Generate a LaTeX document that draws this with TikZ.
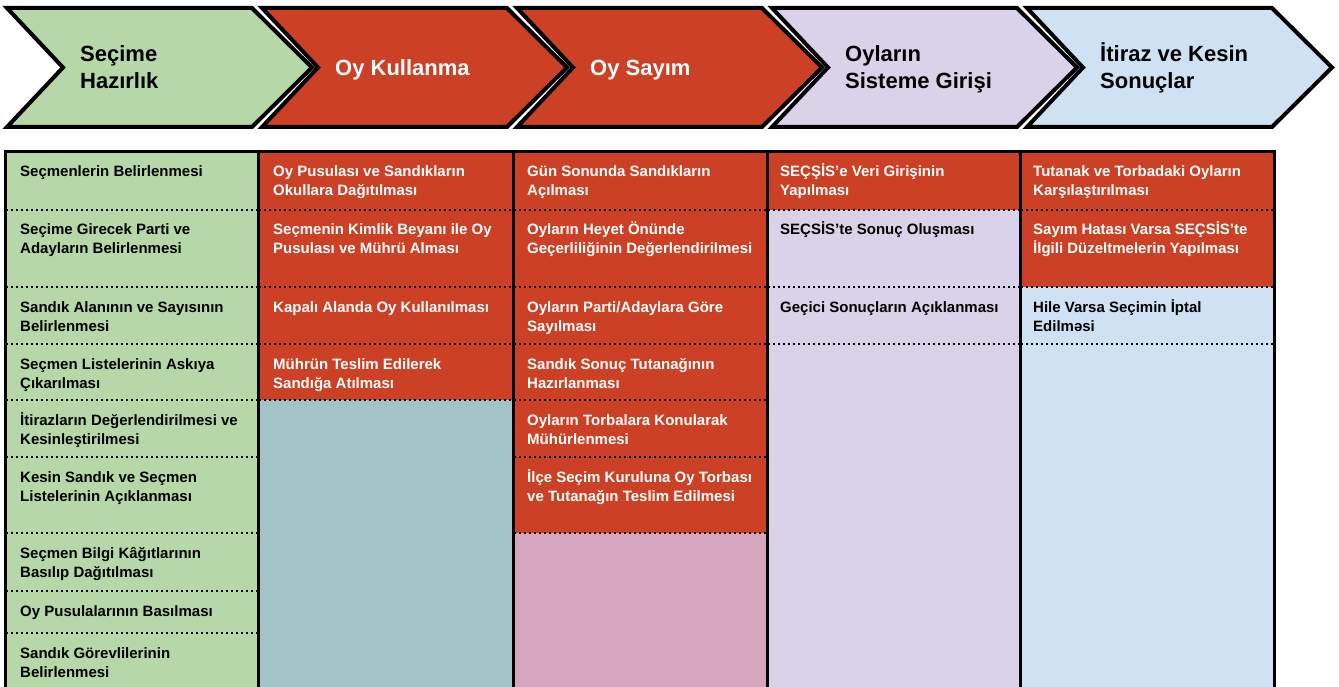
\documentclass[tikz,border=0pt]{standalone}
\usepackage{fontspec}
\setmainfont{Liberation Sans}
\definecolor{cgreen}{HTML}{B6D7A8}
\definecolor{cred}{HTML}{CC4125}
\definecolor{cteal}{HTML}{A2C4C9}
\definecolor{cpink}{HTML}{D5A6BD}
\definecolor{clav}{HTML}{D9D2E9}
\definecolor{cblue}{HTML}{CFE2F3}
\newcommand\mychev[2]{%
  \filldraw[chevline, fill=#2] (7+#1,8) -- (252+#1,8) -- (312+#1,67.5) -- (252+#1,127) -- (7+#1,127) -- (63+#1,67.5) -- cycle;}
\begin{document}
\begin{tikzpicture}[x=1pt,y=-1pt,
  chevline/.style={draw=black, line width=4pt, line join=miter},
  head/.style={anchor=base west, inner sep=0pt, align=left, font=\bfseries\fontsize{22}{27}\selectfont},
  cell/.style={anchor=base west, inner sep=0pt, align=left, font=\bfseries\fontsize{15}{19}\selectfont},
  wcell/.style={cell, text=white},
  dotline/.style={draw=black, line width=2pt, dash pattern=on 2pt off 3pt},
  colline/.style={draw=black, line width=3pt}]
\useasboundingbox (0,0) rectangle (1339,687);
\fill[white] (0,0) rectangle (1339,687);
% chevrons
\mychev{0}{cgreen}
\mychev{255}{cred}
\mychev{510}{cred}
\mychev{765}{clav}
\mychev{1020}{cblue}
\node[head] (h1) at (80,89) {Seçime\\Hazırlık};
\node[head, text=white] (h2) at (335,76) {Oy Kullanma};
\node[head, text=white] (h3) at (590,76) {Oy Sayım};
\node[head] (h4) at (845,89) {Oyların\\Sisteme Girişi};
\node[head] (h5) at (1100,89) {İtiraz ve Kesin\\Sonuçlar};
% table fills
\fill[cgreen] (5,152) rectangle (258,700);
\fill[cred] (258,152) rectangle (513,400);
\fill[cteal] (258,400) rectangle (513,700);
\fill[cred] (513,152) rectangle (767,533);
\fill[cpink] (513,533) rectangle (767,700);
\fill[cred] (767,152) rectangle (1020,210);
\fill[clav] (767,210) rectangle (1020,700);
\fill[cred] (1020,152) rectangle (1274,287);
\fill[cblue] (1020,287) rectangle (1274,700);
% dotted separators
\foreach \y in {210,287,344,400,457,533,591,633} \draw[dotline] (6,\y) -- (257,\y);
\foreach \y in {210,287,344,400} \draw[dotline] (259,\y) -- (512,\y);
\foreach \y in {210,287,344,400,457,533} \draw[dotline] (514,\y) -- (766,\y);
\foreach \y in {210,287,344} \draw[dotline] (768,\y) -- (1019,\y);
\foreach \y in {210,287,344} \draw[dotline] (1021,\y) -- (1273,\y);
% borders
\foreach \x in {5,258,513,767,1020,1274} \draw[colline] (\x,152) -- (\x,700);
\draw[colline] (3.5,152) -- (1275.5,152);
% column 1
\node[cell] (a1) at (20,177) {Seçmenlerin Belirlenmesi};
\node[cell] (a2) at (20,254) {Seçime Girecek Parti ve\\Adayların Belirlenmesi};
\node[cell] (a3) at (20,331) {Sandık Alanının ve Sayısının\\Belirlenmesi};
\node[cell] (a4) at (20,388) {Seçmen Listelerinin Askıya\\Çıkarılması};
\node[cell] (a5) at (20,444) {İtirazların Değerlendirilmesi ve\\Kesinleştirilmesi};
\node[cell] (a6) at (20,501) {Kesin Sandık ve Seçmen\\Listelerinin Açıklanması};
\node[cell] (a7) at (20,577) {Seçmen Bilgi Kâğıtlarının\\Basılıp Dağıtılması};
\node[cell] (a8) at (20,616) {Oy Pusulalarının Basılması};
\node[cell] (a9) at (20,677) {Sandık Görevlilerinin\\Belirlenmesi};
% column 2
\node[wcell] (b1) at (273,196) {Oy Pusulası ve Sandıkların\\Okullara Dağıtılması};
\node[wcell] (b2) at (273,254) {Seçmenin Kimlik Beyanı ile Oy\\Pusulası ve Mührü Alması};
\node[wcell] (b3) at (273,312) {Kapalı Alanda Oy Kullanılması};
\node[wcell] (b4) at (273,388) {Mührün Teslim Edilerek\\Sandığa Atılması};
% column 3
\node[wcell] (c1) at (527,196) {Gün Sonunda Sandıkların\\Açılması};
\node[wcell] (c2) at (527,254) {Oyların Heyet Önünde\\Geçerliliğinin Değerlendirilmesi};
\node[wcell] (c3) at (527,331) {Oyların Parti/Adaylara Göre\\Sayılması};
\node[wcell] (c4) at (527,388) {Sandık Sonuç Tutanağının\\Hazırlanması};
\node[wcell] (c5) at (527,444) {Oyların Torbalara Konularak\\Mühürlenmesi};
\node[wcell] (c6) at (527,501) {İlçe Seçim Kuruluna Oy Torbası\\ve Tutanağın Teslim Edilmesi};
% column 4
\node[wcell] (d1) at (780,196) {SEÇŞİS’e Veri Girişinin\\Yapılması};
\node[cell] (d2) at (780,235) {SEÇSİS’te Sonuç Oluşması};
\node[cell] (d3) at (780,312) {Geçici Sonuçların Açıklanması};
% column 5
\node[wcell] (e1) at (1033,196) {Tutanak ve Torbadaki Oyların\\Karşılaştırılması};
\node[wcell] (e2) at (1033,254) {Sayım Hatası Varsa SEÇSİS’te\\İlgili Düzeltmelerin Yapılması};
\node[cell] (e3) at (1033,331) {Hile Varsa Seçimin İptal\\Edilməsi};
\end{tikzpicture}
\end{document}
